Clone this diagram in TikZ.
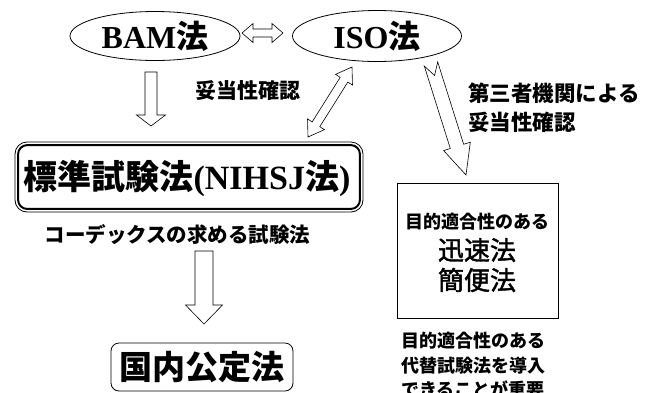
\documentclass[tikz,border=0pt]{standalone}
\usepackage{fontspec}
\setmainfont{Liberation Serif}
\newfontfamily\jp{Noto Sans CJK JP}
\newfontfamily\jpm{Noto Sans CJK JP}[FakeBold=1.6]
\usetikzlibrary{shapes.geometric,calc}
\tikzset{
  arrowline/.style={draw=black,line width=0.6pt,fill=white,line join=miter},
  ovalbox/.style={ellipse,draw,line width=0.8pt,inner sep=0pt},
  plainbox/.style={rectangle,draw,line width=0.8pt,inner sep=0pt},
  txt/.style={inner sep=0pt,font=\jp\bfseries}
}
% hollow single block arrow: [style]{tail}{tip}{shaft half}{head half}{head length}
\newcommand{\hollowarrow}[6][]{%
  \coordinate (hbase) at ($(#3)!#6!(#2)$);
  \draw[arrowline,#1] ($(#2)!#4!90:(#3)$) -- ($(hbase)!#4!-90:(#2)$) -- ($(hbase)!#5!-90:(#2)$) -- (#3)
    -- ($(hbase)!#5!90:(#2)$) -- ($(hbase)!#4!90:(#2)$) -- ($(#2)!#4!-90:(#3)$) -- cycle;}
% notched single block arrow
\newcommand{\notcharrow}[7][]{%
  \coordinate (hbase) at ($(#3)!#6!(#2)$);
  \draw[arrowline,#1] ($(#2)!#4!90:(#3)$) -- ($(hbase)!#4!-90:(#2)$) -- ($(hbase)!#5!-90:(#2)$) -- (#3)
    -- ($(hbase)!#5!90:(#2)$) -- ($(hbase)!#4!90:(#2)$) -- ($(#2)!#4!-90:(#3)$) -- ($(#2)!#7!(#3)$) -- cycle;}
% hollow double block arrow
\newcommand{\hollowdouble}[6][]{%
  \coordinate (hda) at ($(#2)!#6!(#3)$);
  \coordinate (hdb) at ($(#3)!#6!(#2)$);
  \draw[arrowline,#1] (#2) -- ($(hda)!#5!90:(#3)$) -- ($(hda)!#4!90:(#3)$) -- ($(hdb)!#4!-90:(#2)$)
    -- ($(hdb)!#5!-90:(#2)$) -- (#3) -- ($(hdb)!#5!90:(#2)$) -- ($(hdb)!#4!90:(#2)$)
    -- ($(hda)!#4!-90:(#3)$) -- ($(hda)!#5!-90:(#3)$) -- cycle;}
\begin{document}
\begin{tikzpicture}[x=1pt,y=-1pt]
\useasboundingbox[fill=white] (0,0) rectangle (659,392);

% top ellipses
\node[ovalbox,minimum width=170pt,minimum height=49pt] (bam) at (155,36) {};
\node[txt,font=\fontsize{32}{32}\selectfont] at (bam) {\bfseries BAM{\jp\bfseries 法}};
\node[ovalbox,minimum width=169pt,minimum height=51pt] (iso) at (377,36) {};
\node[txt,font=\fontsize{32}{32}\selectfont] at (iso) {\bfseries ISO{\jp\bfseries 法}};

% standard method box
\node[plainbox,rounded corners=12pt,minimum width=348pt,minimum height=70pt] (std) at (189,177) {};
\draw[line width=2pt,rounded corners=9pt] ($(std.south west)+(3.5,-3.5)$) rectangle ($(std.north east)+(-3.5,3.5)$);
\node[inner sep=0pt,font=\fontsize{34}{34}\selectfont] at (187,178) {{\jp\bfseries 標準試験法}\textbf{(NIHSJ}{\jp\bfseries 法}\textbf{)}};

\node[txt,font=\jp\bfseries\fontsize{20.5}{20.5}\selectfont] (codex) at (177.5,235) {コーデックスの求める試験法};

% national official method box
\node[plainbox,rounded corners=8pt,minimum width=182pt,minimum height=48pt] (koku) at (202,367) {};
\node[txt,font=\jp\bfseries\fontsize{33}{33}\selectfont] at (202,367) {国内公定法};

% fit-for-purpose box
\node[plainbox,minimum width=161pt,minimum height=135pt] (fit) at (477.5,250.5) {};
\node[txt,font=\jp\bfseries\fontsize{18}{18}\selectfont] at (477,222) {目的適合性のある};
\node[inner sep=0pt,font=\jpm\fontsize{26}{26}\selectfont] at (477,250) {迅速法};
\node[inner sep=0pt,font=\jpm\fontsize{26}{26}\selectfont] at (477,280) {簡便法};

% labels
\node[txt,font=\jp\bfseries\fontsize{21}{21}\selectfont] (val1) at (247.5,91) {妥当性確認};
\node[txt,font=\jp\bfseries\fontsize{21.5}{29}\selectfont,align=left,anchor=west] (val2) at (468,107.5) {第三者機関による\\妥当性確認};
\node[txt,font=\jp\bfseries\fontsize{18}{24.5}\selectfont,align=left,anchor=north west] (note) at (401,332) {目的適合性のある\\代替試験法を導入\\できることが重要};

% arrow end points
\coordinate (a1t) at (151,72);  \coordinate (a1h) at (151,126);
\coordinate (a2t) at (242,33);  \coordinate (a2h) at (283,33);
\coordinate (a3t) at (308,137); \coordinate (a3h) at (352,67);
\coordinate (a4t) at (431,64);  \coordinate (a4h) at (466,175);
\coordinate (a5t) at (204,251); \coordinate (a5h) at (204,324);

\hollowarrow{a1t}{a1h}{6pt}{14.5pt}{11pt}
\hollowdouble{a2t}{a2h}{4pt}{9.5pt}{11pt}
\hollowdouble{a3t}{a3h}{4.5pt}{10pt}{15pt}
\notcharrow{a4t}{a4h}{7pt}{14pt}{30pt}{12pt}
\hollowarrow{a5t}{a5h}{9pt}{18.5pt}{19pt}
\end{tikzpicture}
\end{document}
